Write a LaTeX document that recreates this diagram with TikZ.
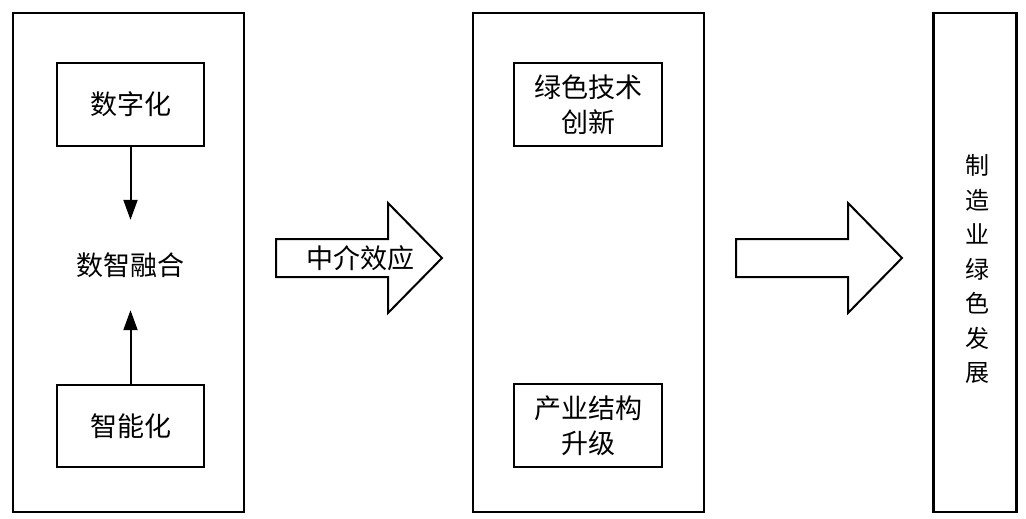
\documentclass[tikz,border=0pt]{standalone}
\usepackage{fontspec}
\newfontfamily\cjk{Noto Sans CJK SC}
\usetikzlibrary{arrows.meta}
\begin{document}
\begin{tikzpicture}[x=1pt,y=-1pt,
  bigbox/.style={draw,line width=2.6pt,inner sep=0pt},
  smallbox/.style={draw,line width=1.8pt,inner sep=0pt,font=\cjk\fontsize{27}{35}\selectfont,align=center},
  label/.style={font=\cjk\fontsize{27}{35}\selectfont,align=center,inner sep=0pt},
  conn/.style={line width=2pt,-{Triangle[length=20pt,width=14pt]}},
  blockarrow/.style={draw,line width=2pt,fill=white,line join=miter}]
\useasboundingbox (0,0) rectangle (1026,519);
% big boxes
\node[bigbox,minimum width=231pt,minimum height=499pt] (left) at (128.5,262.5) {};
\node[bigbox,minimum width=231pt,minimum height=499pt] (mid) at (588.5,262.5) {};
\node[bigbox,minimum width=83pt,minimum height=499pt] (right) at (975,262.5) {};
% left content
\node[smallbox,minimum width=147pt,minimum height=83pt] (dz) at (130.5,104.5) {数字化};
\node[smallbox,minimum width=147pt,minimum height=82pt] (zn) at (130.5,426) {智能化};
\node[label,minimum height=90pt] (fuse) at (130.5,265) {数智融合};
\draw[conn] (dz.south) -- (fuse.north);
\draw[conn] (zn.north) -- (fuse.south);
% middle content
\node[smallbox,minimum width=148pt,minimum height=83pt] (gt) at (588,104.5) {绿色技术\\创新};
\node[smallbox,minimum width=148pt,minimum height=83pt] (is) at (588,425.5) {产业结构\\升级};
% right text
\node[label,font=\cjk\fontsize{24}{34.5}\selectfont] (goal) at (977,269) {制\\造\\业\\绿\\色\\发\\展};
% block arrows
\draw[blockarrow] (276,239) -- (388,239) -- (388,203) -- (442,258) -- (388,313) -- (388,277) -- (276,277) -- cycle;
\node[label] (med) at (360,258) {中介效应};
\draw[blockarrow] (736,239) -- (848,239) -- (848,203) -- (902,258) -- (848,313) -- (848,277) -- (736,277) -- cycle;
\end{tikzpicture}
\end{document}
